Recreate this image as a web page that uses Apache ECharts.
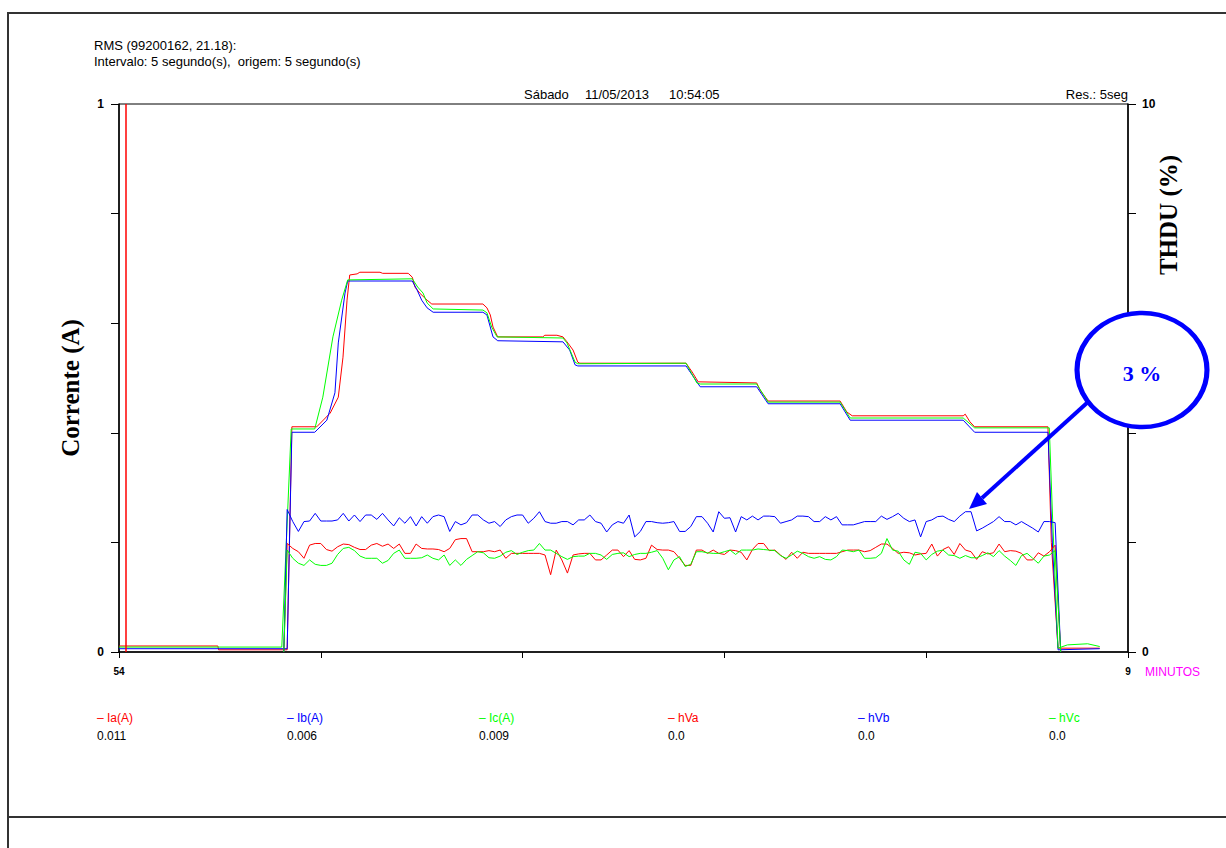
<!DOCTYPE html>
<html><head><meta charset="utf-8">
<script src="https://cdn.jsdelivr.net/npm/echarts@6/dist/echarts.min.js"></script>
<style>html,body{margin:0;padding:0;background:#fff}#c{width:1226px;height:848px}</style>
</head><body><div id="c"></div>
<script>
// ---- tick labels ----
const xTickLabels = ['54', '', '', '', '', '9'];       // minutes 10:54 .. 11:09, tick each 3 min
const yLeftTicks = { 0: '0', 1: '1' };
const yRightTicks = { 0: '0', 10: '10' };

// ---- currents (A): breakpoints, time in minutes from 10:54 ----
const iaT = [0, 1.47, 1.48, 2.50, 2.57, 2.94, 3.14, 3.26, 3.33, 3.39, 3.43, 3.54, 3.58, 3.88, 3.92, 4.30, 4.36, 4.40, 4.47, 4.58, 4.65, 5.41, 5.47, 5.52, 5.56, 5.63, 6.30, 6.33, 6.51, 6.60, 6.66, 6.75, 6.82, 6.85, 8.43, 8.52, 8.61, 9.48, 9.53, 9.65, 10.72, 10.82, 10.90, 12.55, 12.58, 12.65, 12.72, 13.81, 13.86, 13.96, 14.58];
const iaV = [0.011, 0.011, 0.004, 0.004, 0.411, 0.411, 0.436, 0.465, 0.538, 0.642, 0.688, 0.690, 0.693, 0.693, 0.691, 0.691, 0.684, 0.666, 0.655, 0.642, 0.635, 0.635, 0.628, 0.615, 0.593, 0.575, 0.575, 0.578, 0.578, 0.575, 0.566, 0.551, 0.529, 0.527, 0.527, 0.511, 0.493, 0.491, 0.478, 0.458, 0.458, 0.438, 0.431, 0.431, 0.434, 0.420, 0.411, 0.411, 0.200, 0.007, 0.007];

const ibT = [0, 2.50, 2.57, 2.91, 3.09, 3.21, 3.26, 3.36, 3.40, 4.36, 4.43, 4.50, 4.58, 4.67, 5.41, 5.47, 5.56, 5.63, 6.60, 6.70, 6.78, 6.82, 8.43, 8.64, 9.48, 9.65, 10.72, 10.87, 12.55, 12.72, 13.81, 13.88, 13.96, 14.58];
const ibV = [0.006, 0.006, 0.401, 0.401, 0.423, 0.473, 0.564, 0.655, 0.677, 0.677, 0.661, 0.642, 0.628, 0.620, 0.620, 0.615, 0.575, 0.568, 0.566, 0.551, 0.524, 0.522, 0.522, 0.484, 0.484, 0.453, 0.453, 0.423, 0.423, 0.401, 0.401, 0.186, 0.004, 0.006];

const icT = [0, 2.42, 2.56, 2.91, 3.03, 3.18, 3.31, 3.40, 4.36, 4.44, 4.52, 4.58, 4.67, 5.41, 5.47, 5.54, 5.62, 6.60, 6.66, 6.78, 6.82, 8.43, 8.59, 8.64, 9.48, 9.65, 10.72, 10.87, 12.55, 12.72, 13.83, 13.88, 13.96, 14.10, 14.40, 14.58];
const icV = [0.009, 0.009, 0.407, 0.407, 0.465, 0.575, 0.642, 0.679, 0.681, 0.666, 0.655, 0.637, 0.626, 0.624, 0.619, 0.593, 0.575, 0.573, 0.564, 0.529, 0.526, 0.527, 0.491, 0.489, 0.489, 0.456, 0.456, 0.427, 0.427, 0.409, 0.409, 0.241, 0.007, 0.013, 0.015, 0.010];

// ---- THDU (%): 5-second samples, first sample is sample #30 (10:56:30) ----
const thdFirstSample = 30;
const thdStepMin = 5 / 60;
const thdEdgeT = [2.45, 14.0];   // zero before / after recording
const hVa = [
 1.98,1.89,1.83,1.71,1.95,1.98,1.98,1.87,1.84,1.92,
 1.97,1.96,1.91,1.87,1.87,1.95,1.98,1.93,1.97,1.89,
 1.97,1.80,1.80,1.97,1.89,1.88,1.88,1.87,1.83,1.89,
 2.05,2.07,2.07,1.83,1.83,1.83,1.85,1.83,1.86,1.71,
 1.80,1.80,1.80,1.80,1.80,1.80,1.77,1.41,1.86,1.68,
 1.44,1.77,1.79,1.80,1.80,1.68,1.68,1.77,1.86,1.86,
 1.74,1.85,1.69,1.68,1.71,1.95,1.87,1.86,1.86,1.83,
 1.71,1.58,1.58,1.86,1.86,1.80,1.86,1.80,1.78,1.86,
 1.85,1.82,1.68,1.87,1.98,1.98,1.85,1.86,1.77,1.69,
 1.82,1.71,1.82,1.80,1.80,1.80,1.80,1.80,1.80,1.83,
 1.86,1.86,1.86,1.83,1.85,1.91,1.97,1.97,1.89,1.80,
 1.82,1.81,1.77,1.79,1.80,1.97,1.75,1.87,1.92,1.78,
 1.98,1.86,1.83,1.69,1.83,1.79,1.81,1.97,1.83,1.85,
 1.84,1.80,1.68,1.68,1.81,1.75,1.83,1.95];
const hVb = [
 2.60,2.38,2.20,2.38,2.39,2.53,2.39,2.39,2.39,2.41,
 2.53,2.39,2.50,2.38,2.50,2.50,2.42,2.53,2.41,2.30,
 2.45,2.35,2.47,2.30,2.47,2.35,2.47,2.50,2.47,2.20,
 2.38,2.32,2.36,2.50,2.50,2.41,2.35,2.38,2.29,2.41,
 2.47,2.50,2.50,2.35,2.44,2.56,2.38,2.35,2.35,2.38,
 2.38,2.32,2.41,2.41,2.50,2.38,2.35,2.19,2.32,2.38,
 2.35,2.50,2.10,2.20,2.38,2.38,2.36,2.35,2.36,2.38,
 2.20,2.20,2.29,2.47,2.47,2.35,2.19,2.56,2.44,2.45,
 2.19,2.47,2.41,2.48,2.41,2.48,2.48,2.47,2.35,2.38,
 2.41,2.48,2.48,2.47,2.38,2.38,2.47,2.41,2.47,2.32,
 2.32,2.32,2.35,2.38,2.38,2.38,2.48,2.42,2.47,2.53,
 2.44,2.38,2.41,2.10,2.38,2.41,2.47,2.48,2.42,2.38,
 2.48,2.56,2.56,2.21,2.26,2.32,2.38,2.47,2.38,2.38,
 2.32,2.38,2.32,2.26,2.19,2.38,2.38,2.36];
const hVc = [
 1.86,1.71,1.62,1.58,1.68,1.60,1.58,1.58,1.62,1.78,
 1.89,1.91,1.85,1.75,1.71,1.71,1.71,1.62,1.67,1.80,
 1.86,1.71,1.71,1.71,1.72,1.77,1.71,1.68,1.77,1.58,
 1.68,1.58,1.69,1.76,1.83,1.81,1.72,1.71,1.75,1.82,
 1.85,1.78,1.82,1.85,1.86,1.98,1.86,1.86,1.80,1.74,
 1.69,1.74,1.75,1.75,1.80,1.80,1.77,1.69,1.78,1.80,
 1.81,1.74,1.78,1.80,1.80,1.82,1.85,1.71,1.50,1.68,
 1.74,1.56,1.60,1.83,1.83,1.81,1.80,1.80,1.83,1.86,
 1.78,1.86,1.86,1.86,1.88,1.87,1.86,1.85,1.76,1.71,
 1.77,1.84,1.80,1.74,1.71,1.74,1.69,1.68,1.74,1.86,
 1.85,1.83,1.86,1.71,1.71,1.72,1.80,2.07,1.86,1.84,
 1.68,1.60,1.82,1.80,1.68,1.78,1.84,1.86,1.77,1.76,
 1.71,1.76,1.72,1.72,1.76,1.81,1.74,1.85,1.75,1.67,
 1.58,1.76,1.80,1.71,1.62,1.75,1.77,1.85];

// ---- legend / cursor ----
const legendNames = ['Ia(A)', 'Ib(A)', 'Ic(A)', 'hVa', 'hVb', 'hVc'];
const legendValues = ['0.011', '0.006', '0.009', '0.0', '0.0', '0.0'];
const cursorT = 0.1;

const RED = '#ff0000', BLUE = '#0000ff', GREEN = '#00ff00';
const colors = [RED, BLUE, GREEN, RED, BLUE, GREEN];

function zip(t, v) { return t.map((x, k) => [x, v[k]]); }
function thd(v) {
  return [[thdEdgeT[0], 0]].concat(v.map((y, k) => [(thdFirstSample + k) * thdStepMin, y]), [[thdEdgeT[1], 0]]);
}

const chart = echarts.init(document.getElementById('c'), null, { renderer: 'svg', width: 1226, height: 848 });

const FONT = 'Liberation Sans';
const SERIF = 'Liberation Serif';

function lineSeries(name, data, yIdx, color, extra) {
  return Object.assign({
    name, type: 'line', data, yAxisIndex: yIdx, symbol: 'none', showSymbol: false,
    lineStyle: { color, width: 1 }, itemStyle: { color }, animation: false, silent: true
  }, extra || {});
}

const legendX = [97, 287, 479, 668, 858, 1049];
const graphics = [];
// frame
graphics.push({ type: 'rect', shape: { x: 8, y: 13, width: 1240, height: 804 }, style: { fill: 'none', stroke: '#333', lineWidth: 2 }, z: 1 });
graphics.push({ type: 'line', shape: { x1: 8, y1: 817, x2: 8, y2: 850 }, style: { stroke: '#333', lineWidth: 2 } });
// header
graphics.push({ type: 'text', left: 94, top: 39, style: { text: 'RMS (99200162, 21.18):', font: '13px "' + FONT + '"', fill: '#000' } });
graphics.push({ type: 'text', left: 94, top: 55, style: { text: 'Intervalo: 5 segundo(s),  origem: 5 segundo(s)', font: '13px "' + FONT + '"', fill: '#000' } });
graphics.push({ type: 'text', left: 524, top: 88, style: { text: 'Sábado', font: '13px "' + FONT + '"', fill: '#000' } });
graphics.push({ type: 'text', left: 585, top: 88, style: { text: '11/05/2013', font: '13px "' + FONT + '"', fill: '#000' } });
graphics.push({ type: 'text', left: 669, top: 88, style: { text: '10:54:05', font: '13px "' + FONT + '"', fill: '#000' } });
graphics.push({ type: 'text', right: 98, top: 88, style: { text: 'Res.: 5seg', font: '13px "' + FONT + '"', fill: '#000' } });
graphics.push({ type: 'text', left: 1145, top: 666, style: { text: 'MINUTOS', font: '12px "' + FONT + '"', fill: '#ff00ff' } });
// axis titles
graphics.push({ type: 'text', x: 70, y: 388, rotation: Math.PI / 2, style: { text: 'Corrente (A)', font: 'bold 25px "' + SERIF + '"', fill: '#000', align: 'center', verticalAlign: 'middle' } });
graphics.push({ type: 'text', x: 1168, y: 215, rotation: Math.PI / 2, style: { text: 'THDU (%)', font: 'bold 25px "' + SERIF + '"', fill: '#000', align: 'center', verticalAlign: 'middle' } });
// legend
legendNames.forEach((n, k) => {
  graphics.push({ type: 'text', left: legendX[k], top: 712, style: { text: '\u2013 ' + n, font: '12px "' + FONT + '"', fill: colors[k] } });
  graphics.push({ type: 'text', left: legendX[k], top: 730, style: { text: legendValues[k], font: '12px "' + FONT + '"', fill: '#000' } });
});
// callout
graphics.push({ type: 'line', shape: { x1: 1088, y1: 402, x2: 982, y2: 498 }, style: { stroke: BLUE, lineWidth: 4 }, z: 50 });
graphics.push({ type: 'polygon', shape: { points: [[969, 509], [987, 504], [977, 492]] }, style: { fill: BLUE }, z: 50 });
graphics.push({ type: 'circle', x: 1142, y: 370, scaleX: 65 / 57, scaleY: 1, shape: { cx: 0, cy: 0, r: 57 }, style: { fill: '#fff', stroke: BLUE, lineWidth: 4.5 }, z: 51 });
graphics.push({ type: 'text', x: 1142, y: 373, style: { text: '3 %', font: 'bold 22px "' + SERIF + '"', fill: BLUE, align: 'center', verticalAlign: 'middle' }, z: 52 });

const option = {
  backgroundColor: '#fff',
  animation: false,
  grid: { left: 119, right: 98, top: 104, bottom: 196, show: true, borderColor: '#000', borderWidth: 1, backgroundColor: 'transparent' },
  xAxis: {
    type: 'value', min: 0, max: 15, interval: 3,
    axisLine: { show: true, lineStyle: { color: '#000', width: 1.5 } },
    axisTick: { show: true, length: 6, lineStyle: { color: '#000' } },
    axisLabel: { margin: 14, fontSize: 10, fontWeight: 'bold', color: '#000', fontFamily: FONT, formatter: v => xTickLabels[Math.round(v / 3)] || '' },
    splitLine: { show: false }
  },
  yAxis: [
    {
      type: 'value', min: 0, max: 1, interval: 0.2, position: 'left',
      axisLine: { show: true, lineStyle: { color: '#000', width: 1.5 } },
      axisTick: { show: true, length: 8, lineStyle: { color: '#000' } },
      axisLabel: { margin: 15, fontSize: 12, fontWeight: 'bold', color: '#000', fontFamily: FONT, formatter: v => yLeftTicks[v] || '' },
      splitLine: { show: false }
    },
    {
      type: 'value', min: 0, max: 10, interval: 2, position: 'right',
      axisLine: { show: true, lineStyle: { color: '#000', width: 1.5 } },
      axisTick: { show: true, length: 8, lineStyle: { color: '#000' } },
      axisLabel: { margin: 14, fontSize: 12, fontWeight: 'bold', color: '#000', fontFamily: FONT, formatter: v => yRightTicks[v] || '' },
      splitLine: { show: false }
    }
  ],
  series: [
    lineSeries('Ia(A)', zip(iaT, iaV), 0, RED, {
      markLine: { silent: true, symbol: ['none', 'none'], animation: false, label: { show: false }, emphasis: { disabled: true }, lineStyle: { color: RED, width: 1.5, type: 'solid', opacity: 1 }, data: [{ xAxis: cursorT, lineStyle: { color: RED, width: 1.5, type: 'solid' } }] }
    }),
    lineSeries('Ib(A)', zip(ibT, ibV), 0, BLUE),
    lineSeries('Ic(A)', zip(icT, icV), 0, GREEN),
    lineSeries('hVa', thd(hVa), 1, RED),
    lineSeries('hVb', thd(hVb), 1, BLUE),
    lineSeries('hVc', thd(hVc), 1, GREEN)
  ],
  graphic: graphics
};
chart.setOption(option);
</script>
</body></html>
